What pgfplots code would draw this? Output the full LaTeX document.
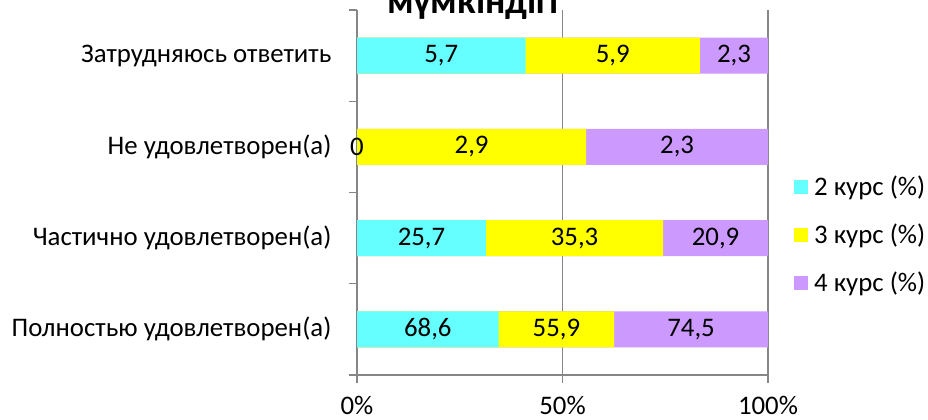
\documentclass[border=0pt]{standalone}
\usepackage{pgfplots}
\pgfplotsset{compat=1.18}
\usepackage{pgfplotstable}
\usepackage{fontspec}
\setmainfont{Carlito}
\definecolor{cA}{RGB}{102,255,255}
\definecolor{cB}{RGB}{255,255,0}
\definecolor{cC}{RGB}{204,153,255}
\definecolor{axgray}{RGB}{134,134,134}
\pgfplotstableread{
y c2 c3 c4
0 68.6 55.9 74.5
1 25.7 35.3 20.9
2 0 2.9 2.3
3 5.7 5.9 2.3
}\data
\newcommand\lblfont{\fontsize{20.1}{24}\selectfont}
\begin{document}
\begin{tikzpicture}[font=\lblfont]
\begin{axis}[
 at={(267.75pt,33pt)}, anchor=south west,
 scale only axis, width=308.25pt, height=273.75pt,
 xmin=0, xmax=100, ymin=-0.5, ymax=3.5,
 axis x line=bottom, axis y line=left,
 axis line style={axgray, line width=1.1pt, -},
 xtick={0,50,100}, xticklabels={0\%,50\%,100\%},
 xmajorgrids, major grid style={axgray, line width=1.1pt},
 ytick={-0.5,0.5,1.5,2.5,3.5}, yticklabels={},
 extra y ticks={0,1,2,3},
 extra y tick labels={Полностью удовлетворен(а),Частично удовлетворен(а),Не удовлетворен(а),Затрудняюсь ответить},
 extra y tick style={tick style={draw=none}, grid=none},
 tick align=outside, major tick length=6pt,
 tick style={axgray, line width=1.1pt},
 yticklabel style={anchor=east, inner sep=0pt, xshift=-13pt, font=\lblfont},
 xticklabel style={anchor=north, inner sep=0pt, yshift=-10pt, font=\lblfont},
 /pgf/number format/assume math mode=true,
 /pgf/number format/.cd, use comma, fixed, precision=1, /pgfplots/.cd,
 legend style={at={(1.063,0.384)}, anchor=west, draw=none, fill=none, inner sep=0pt, row sep=16pt, font=\lblfont},
 legend cell align=left, reverse legend,
 clip=false,
]
\addplot[xbar, bar shift=0pt, bar width=27pt, fill=cC, draw=none,
  legend image code/.code={\fill[cC] (0pt,-5.25pt) rectangle (10.5pt,5.25pt); \path (13pt,0pt);}]
  table[y=y, x expr={(\thisrow{c2}+\thisrow{c3}+\thisrow{c4})/(\thisrow{c2}+\thisrow{c3}+\thisrow{c4})*100}] \data;
\addlegendentry{4 курс (\%)}
\addplot[xbar, bar shift=0pt, bar width=27pt, fill=cB, draw=none,
  legend image code/.code={\fill[cB] (0pt,-5.25pt) rectangle (10.5pt,5.25pt); \path (13pt,0pt);}]
  table[y=y, x expr={(\thisrow{c2}+\thisrow{c3})/(\thisrow{c2}+\thisrow{c3}+\thisrow{c4})*100}] \data;
\addlegendentry{3 курс (\%)}
\addplot[xbar, bar shift=0pt, bar width=27pt, fill=cA, draw=none,
  legend image code/.code={\fill[cA] (0pt,-5.25pt) rectangle (10.5pt,5.25pt); \path (13pt,0pt);}]
  table[y=y, x expr={\thisrow{c2}/(\thisrow{c2}+\thisrow{c3}+\thisrow{c4})*100}] \data;
\addlegendentry{2 курс (\%)}
% labels
\addplot[forget plot, only marks, mark=none, point meta=explicit,
  nodes near coords, nodes near coords align=center,
  every node near coord/.style={anchor=center, black, font=\lblfont}]
  table[y=y, meta=c2, x expr={0.5*\thisrow{c2}/(\thisrow{c2}+\thisrow{c3}+\thisrow{c4})*100}] \data;
\addplot[forget plot, only marks, mark=none, point meta=explicit,
  nodes near coords, nodes near coords align=center,
  every node near coord/.style={anchor=center, black, font=\lblfont}]
  table[y=y, meta=c3, x expr={(\thisrow{c2}+0.5*\thisrow{c3})/(\thisrow{c2}+\thisrow{c3}+\thisrow{c4})*100}] \data;
\addplot[forget plot, only marks, mark=none, point meta=explicit,
  nodes near coords, nodes near coords align=center,
  every node near coord/.style={anchor=center, black, font=\lblfont}]
  table[y=y, meta=c4, x expr={(\thisrow{c2}+\thisrow{c3}+0.5*\thisrow{c4})/(\thisrow{c2}+\thisrow{c3}+\thisrow{c4})*100}] \data;
\end{axis}
\node[font=\fontsize{28}{32}\selectfont\bfseries, anchor=base] at (354.75pt,304.5pt) {мүмкіндігі};
\pgfresetboundingbox
\path[use as bounding box] (0,0) rectangle (696pt,314.25pt);
\end{tikzpicture}
\end{document}
